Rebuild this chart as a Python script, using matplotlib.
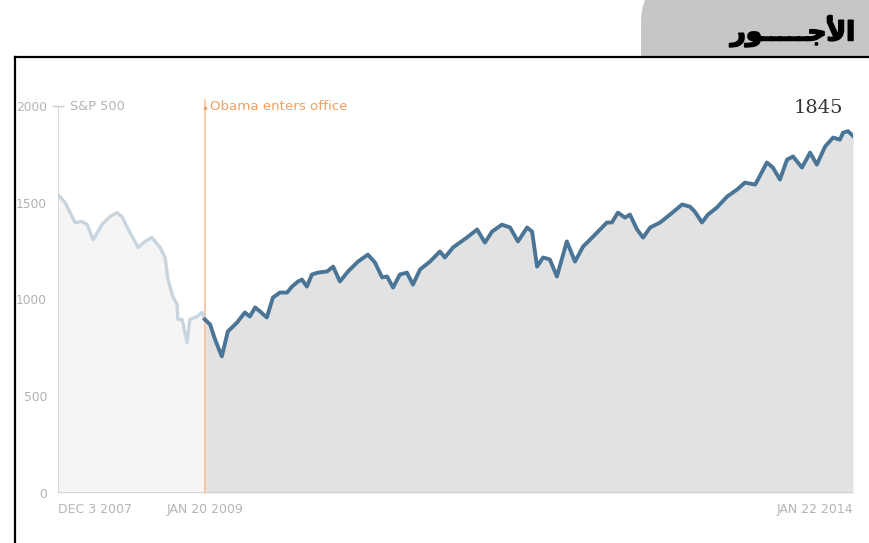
import numpy as np
import matplotlib
matplotlib.use("Agg")
import matplotlib.pyplot as plt
import matplotlib.transforms as mtransforms
import matplotlib.patheffects as pe
from matplotlib.patches import Rectangle, FancyBboxPatch
from matplotlib.lines import Line2D

# ---------------- data ----------------
pre_dates = ["2007-12-03", "2007-12-23", "2008-01-20", "2008-02-09", "2008-02-23",
             "2008-03-11", "2008-04-05", "2008-04-28", "2008-05-17", "2008-05-31",
             "2008-06-23", "2008-07-16", "2008-08-04", "2008-08-24", "2008-09-16",
             "2008-09-30", "2008-10-08", "2008-10-22", "2008-11-03", "2008-11-05",
             "2008-11-17", "2008-12-01", "2008-12-09", "2008-12-29", "2009-01-12",
             "2009-01-20"]
pre_values = [1542, 1501, 1398, 1403, 1387,
              1310, 1387, 1429, 1449, 1429,
              1346, 1269, 1300, 1320, 1269,
              1217, 1103, 1015, 974, 897,
              897, 778, 897, 912, 933,
              897]

post_dates = ["2009-01-20", "2009-02-04", "2009-02-18", "2009-03-09", "2009-03-26",
              "2009-04-21", "2009-05-13", "2009-05-27", "2009-06-11", "2009-06-25",
              "2009-07-14", "2009-07-31", "2009-08-20", "2009-09-09", "2009-09-23",
              "2009-10-10", "2009-10-21", "2009-11-04", "2009-11-18", "2009-12-05",
              "2009-12-31", "2010-01-17", "2010-02-05", "2010-02-28", "2010-03-28",
              "2010-04-25", "2010-05-15", "2010-06-04", "2010-06-18", "2010-07-05",
              "2010-07-24", "2010-08-13", "2010-08-30", "2010-09-19", "2010-10-17",
              "2010-11-14", "2010-11-28", "2010-12-21", "2011-01-29", "2011-02-27",
              "2011-03-21", "2011-04-10", "2011-05-08", "2011-05-31", "2011-06-22",
              "2011-07-18", "2011-08-01", "2011-08-15", "2011-09-01", "2011-09-20",
              "2011-10-10", "2011-11-07", "2011-11-30", "2011-12-23", "2012-01-20",
              "2012-02-28", "2012-03-13", "2012-03-30", "2012-04-19", "2012-05-03",
              "2012-05-23", "2012-06-09", "2012-06-29", "2012-07-27", "2012-08-24",
              "2012-09-27", "2012-10-19", "2012-11-02", "2012-11-22", "2012-12-09",
              "2013-01-03", "2013-02-01", "2013-03-01", "2013-03-23", "2013-04-21",
              "2013-04-29", "2013-05-24", "2013-06-10", "2013-06-30", "2013-07-20",
              "2013-08-06", "2013-08-31", "2013-09-23", "2013-10-12", "2013-11-04",
              "2013-11-27", "2013-12-16", "2013-12-25", "2014-01-08", "2014-01-22"]
post_values = [897, 871, 793, 706, 835,
               881, 933, 912, 959, 938,
               907, 1010, 1036, 1036, 1067,
               1093, 1103, 1067, 1129, 1139,
               1145, 1170, 1093, 1145, 1196,
               1232, 1191, 1114, 1119, 1062,
               1129, 1139, 1077, 1155, 1196,
               1248, 1217, 1269, 1320, 1362,
               1294, 1351, 1387, 1372, 1300,
               1372, 1351, 1170, 1217, 1207,
               1119, 1300, 1196, 1274, 1325,
               1398, 1398, 1449, 1423, 1439,
               1362, 1320, 1372, 1398, 1439,
               1491, 1480, 1454, 1398, 1439,
               1475, 1532, 1568, 1604, 1594,
               1620, 1708, 1682, 1620, 1723,
               1739, 1682, 1759, 1697, 1790,
               1837, 1826, 1862, 1870, 1845]

y_ticks = [0, 500, 1000, 1500, 2000]
x_tick_dates = ["2007-12-03", "2009-01-20", "2014-01-22"]
x_tick_labels = ["DEC 3 2007", "JAN 20 2009", "JAN 22 2014"]
event_date = "2009-01-20"
event_label = "Obama enters office"
series_label = "S&P 500"
last_label = "1845"
# Arabic title "الأجـــــور" written in shaped presentation forms, visual order
title_text = "\uFEAD\uFEEE" + "\u0640" * 5 + "\uFE9F\uFEF7\uFE8D"

pre_d = np.array(pre_dates, dtype="datetime64[D]")
post_d = np.array(post_dates, dtype="datetime64[D]")
xt_d = np.array(x_tick_dates, dtype="datetime64[D]")
ev_d = np.datetime64(event_date)

# ---------------- figure ----------------
W, H = 869, 543
fig = plt.figure(figsize=(W / 100, H / 100), dpi=100)
pix = mtransforms.Affine2D().scale(1 / W, -1 / H).translate(0, 1) + fig.transFigure

# grey tab with rounded corner
tab = FancyBboxPatch((641, -20), 300, 120, boxstyle="round,pad=0,rounding_size=42",
                     transform=pix, fc="#c6c6c6", ec="none", zorder=-3)
fig.add_artist(tab)
# white framed box
box = Rectangle((15, 57), 950, 600, transform=pix, fc="white", ec="none", zorder=-2)
fig.add_artist(box)

fig.text(855 / W, 1 - 31 / H, title_text, ha="right", va="center", fontsize=19,
         fontweight="bold", color="black", family="DejaVu Sans",
         path_effects=[pe.withStroke(linewidth=1.2, foreground="black")])

# axes
ax = fig.add_axes([58 / W, 50 / H, 795 / W, 387 / H])
ax.set_facecolor("none")
for s in ax.spines.values():
    s.set_visible(False)
ax.set_xlim(pre_d[0], post_d[-1])
ax.set_ylim(0, 2000)

ax.fill_between(pre_d, pre_values, 0, color="#f5f5f5", lw=0, zorder=1)
ax.fill_between(post_d, post_values, 0, color="#e2e2e2", lw=0, zorder=1)
ax.plot(pre_d, pre_values, color="#c8d5df", lw=2.4, solid_joinstyle="round", zorder=3)
ax.plot(post_d, post_values, color="#4a7596", lw=2.8, solid_joinstyle="round", zorder=4)

# axis lines
ax.plot([pre_d[0], pre_d[0]], [0, 2000], color="#d8d8d8", lw=1.5, zorder=2)
ax.axhline(0, color="#d0d0d0", lw=2, zorder=5)
ax.plot([ev_d, ev_d], [0, 2030], color="#f5bd95", lw=1.1, zorder=2, clip_on=False)
ax.plot([ev_d], [1990], marker="o", ms=2.5, color="#f0a060", mec="none", clip_on=False, zorder=6)

lab_font = ["Liberation Sans Narrow", "DejaVu Sans"]
ax.set_yticks(y_ticks)
ax.set_yticklabels([str(v) for v in y_ticks])
ax.tick_params(axis="y", length=0, pad=8, labelcolor="#b3b3b3", labelsize=8.8)
for t in ax.get_yticklabels():
    t.set_family(lab_font)
ax.set_xticks([])

# small tick at 2000
ax.plot([-0.006, 0.006], [2000, 2000], transform=ax.get_yaxis_transform(),
        color="#cccccc", lw=1, clip_on=False)
ax.text(0.015, 2000, series_label, transform=ax.get_yaxis_transform(), ha="left",
        va="center", fontsize=9.3, color="#b3b3b3", family=lab_font)

ax.text(ev_d + np.timedelta64(16, "D"), 2000, event_label, ha="left", va="center",
        fontsize=9.6, color="#f0a060", family=lab_font)

for d, lab, ha in zip(xt_d, x_tick_labels, ["left", "center", "right"]):
    ax.text(d, -85, lab, ha=ha, va="center", fontsize=9, color="#b5b5b5", family=lab_font,
            clip_on=False)

ax.text(post_d[-1] - np.timedelta64(28, "D"), 1990, last_label, ha="right", va="center",
        fontsize=14, color="#333333", family="DejaVu Serif")

# cover clipped area left of the frame and draw frame lines
cover = Rectangle((0, 57), 14.5, 600, transform=pix, fc="white", ec="none", zorder=8)
fig.add_artist(cover)
fig.add_artist(Line2D([15, 15], [57, 560], transform=pix, color="black", lw=1.6, zorder=9))
fig.add_artist(Line2D([15, 880], [57, 57], transform=pix, color="black", lw=1.6, zorder=9))

fig.savefig("out.png", dpi=100)
